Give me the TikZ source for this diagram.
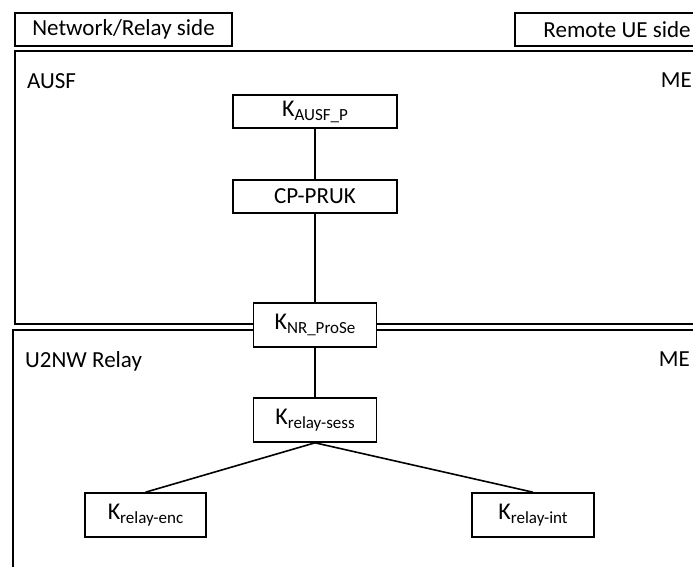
\documentclass[tikz,border=0pt]{standalone}
\usepackage{fontspec}
\setmainfont{Carlito}
\newcommand{\kname}[1]{{\fontsize{24}{28}\selectfont K}{\fontsize{17}{20}\selectfont\raisebox{-0.5ex}{#1}}}
\begin{document}
\begin{tikzpicture}[x=1pt,y=-1pt,
  frame/.style={draw,line width=1.6pt},
  keybox/.style={draw,line width=1.6pt,fill=white,inner sep=0pt,font=\fontsize{23}{27}\selectfont},
  lbl/.style={inner sep=0pt,font=\fontsize{23}{27}\selectfont},
  conn/.style={line width=1.6pt}]
\useasboundingbox (0,0) rectangle (693,566);
\clip (0,0) rectangle (693,566);
% side boxes
\node[keybox,minimum width=217pt,minimum height=33pt] (netside) at (123.5,29.5) {Network/Relay side};
\node[keybox,minimum width=204pt,minimum height=33pt] (remote) at (617,29.5) {Remote UE side};
% domain frames
\draw[frame] (15,51) rectangle (780,324);
\draw[frame] (13,330) rectangle (780,620);
\node[lbl,anchor=base west] (ausf) at (27,88) {AUSF};
\node[lbl,anchor=base east] (me1) at (692,87) {ME};
\node[lbl,anchor=base west] (u2nw) at (25,367) {U2NW Relay};
\node[lbl,anchor=base east] (me2) at (690,366) {ME};
% key boxes
\node[keybox,minimum width=164pt,minimum height=33pt] (kausf) at (315,111.5) {\kname{AUSF\_P}};
\node[keybox,minimum width=164pt,minimum height=33pt] (cppruk) at (315,196.5) {CP-PRUK};
\node[keybox,minimum width=123pt,minimum height=44pt] (knr) at (315,325) {\kname{NR\_ProSe}};
\node[keybox,minimum width=123pt,minimum height=44pt] (ksess) at (315,420) {\kname{relay-sess}};
\node[keybox,minimum width=121pt,minimum height=44pt] (kenc) at (145.5,515) {\kname{relay-enc}};
\node[keybox,minimum width=122pt,minimum height=44pt] (kint) at (533,515) {\kname{relay-int}};
% connectors
\draw[conn] (kausf.south) -- (cppruk.north);
\draw[conn] (cppruk.south) -- (knr.north);
\draw[conn] (knr.south) -- (ksess.north);
\draw[conn] (ksess.south) -- (kenc.north);
\draw[conn] (ksess.south) -- (kint.north);
\end{tikzpicture}
\end{document}
